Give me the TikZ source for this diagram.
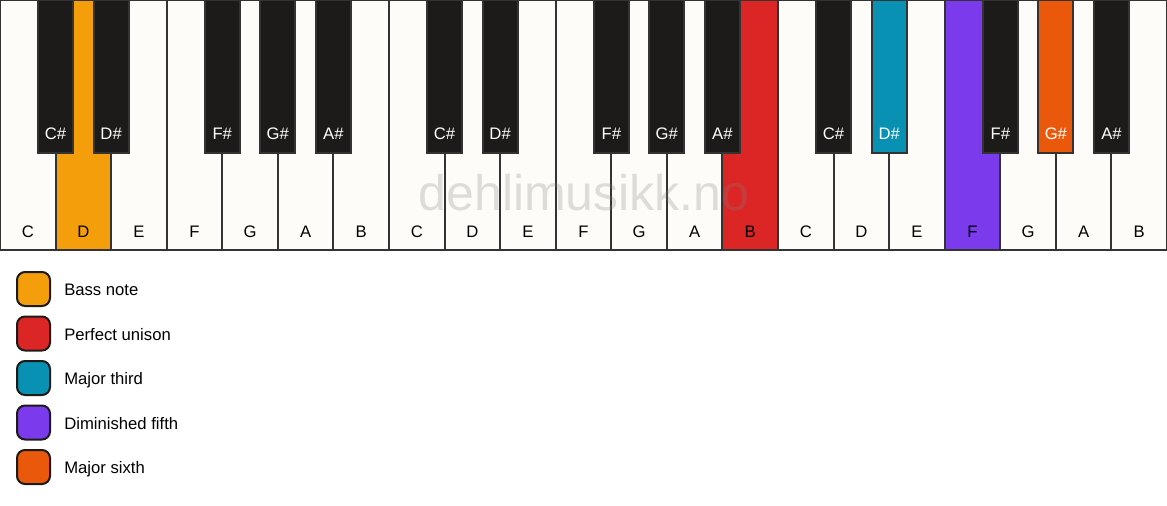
\documentclass[tikz,border=0pt]{standalone}
\usepackage{fontspec}
\setmainfont{Liberation Sans}
\definecolor{ivory}{HTML}{FDFCF8}
\definecolor{ebony}{HTML}{1C1B19}
\definecolor{keyline}{HTML}{333333}
\definecolor{bassnote}{HTML}{F59E0B}
\definecolor{unison}{HTML}{DC2626}
\definecolor{third}{HTML}{0891B2}
\definecolor{fifth}{HTML}{7C3AED}
\definecolor{sixth}{HTML}{EA580C}
\tikzset{
  whitekey/.style={draw=keyline, line width=1.5},
  blackkey/.style={draw=keyline, line width=1.5},
  keylabel/.style={anchor=base, font=\fontsize{12.5}{14}\selectfont},
  swatch/.style={draw=ebony, line width=1.5, rounded corners=6},
}
\begin{document}
\begin{tikzpicture}[x=0.75pt,y=-0.75pt]
  \useasboundingbox (0,0) rectangle (1167,506);
  \pgfmathsetmacro{\w}{1167/21}

  % white keys
  \foreach \n/\c [count=\i from 0] in {C/ivory,D/bassnote,E/ivory,F/ivory,G/ivory,A/ivory,B/ivory,
      C/ivory,D/ivory,E/ivory,F/ivory,G/ivory,A/ivory,B/unison,
      C/ivory,D/ivory,E/ivory,F/fifth,G/ivory,A/ivory,B/ivory} {
    \draw[whitekey, fill=\c] ({\i*\w},0) rectangle ({(\i+1)*\w},250);
    \node[keylabel, text=black] (w\i) at ({(\i+0.5)*\w},237) {\n};
  }

  % watermark
  \node[anchor=base, text=gray, opacity=0.25, font=\fontsize{37.5}{40}\selectfont]
    (mark) at (584,210) {dehlimusikk.no};

  % black keys
  \foreach \n/\c/\i in {C\#/ebony/1,D\#/ebony/2,F\#/ebony/4,G\#/ebony/5,A\#/ebony/6,
      C\#/ebony/8,D\#/ebony/9,F\#/ebony/11,G\#/ebony/12,A\#/ebony/13,
      C\#/ebony/15,D\#/third/16,F\#/ebony/18,G\#/sixth/19,A\#/ebony/20} {
    \draw[blackkey, fill=\c] ({\i*\w-17.5},0) rectangle ({\i*\w+17.5},153);
    \node[keylabel, text=white] (b\i) at ({\i*\w},139.5) {\n};
  }

  % legend
  \foreach \c/\t [count=\k from 0] in {bassnote/Bass note,unison/Perfect unison,
      third/Major third,fifth/Diminished fifth,sixth/Major sixth} {
    \draw[swatch, fill=\c] (17,{272+44.5*\k}) rectangle (50,{306+44.5*\k});
    \node[anchor=base west, inner sep=0, font=\fontsize{12.5}{14}\selectfont]
      (l\k) at (64,{295.7+44.5*\k}) {\t};
  }
\end{tikzpicture}
\end{document}
